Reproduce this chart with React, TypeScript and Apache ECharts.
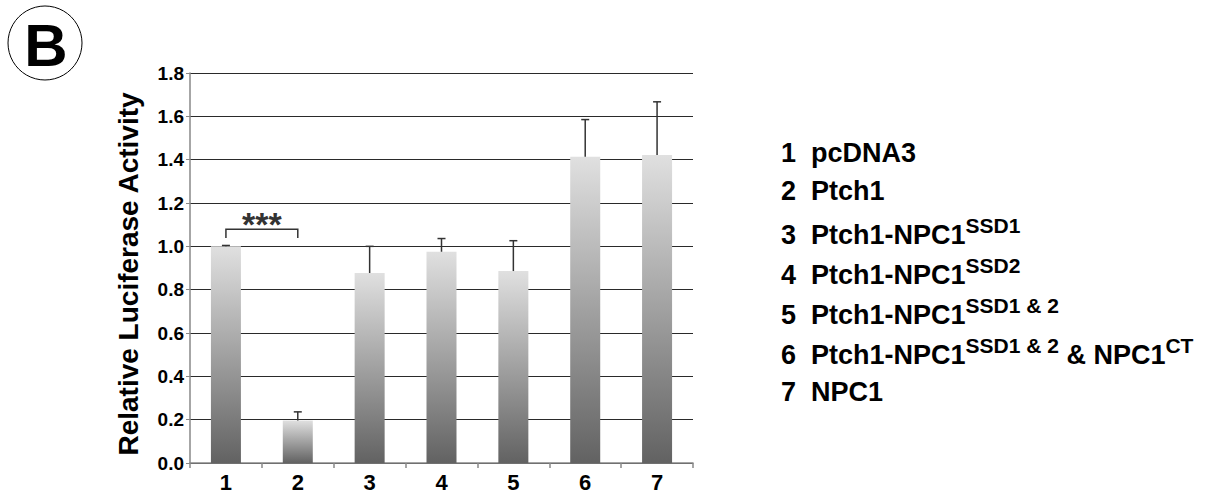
import React, { useEffect, useRef } from "react";
import * as echarts from "echarts";

const categories = ["1", "2", "3", "4", "5", "6", "7"];
const values = [1.0, 0.196, 0.877, 0.975, 0.886, 1.413, 1.422];
const errors = [0.004, 0.04, 0.123, 0.061, 0.14, 0.172, 0.245];
const yTicks = { min: 0, max: 1.8, interval: 0.2 };
// significance bracket: [fromCategory, toCategory, legBottom, bracketTop]
const bracket = [[0, 1, 1.038, 1.079]];
const bracketLabel = "***";
const yTitle = "Relative Luciferase Activity";
const panelLetter = "B";

type Seg = { t: string; sup?: boolean };
const legendNumbers = ["1", "2", "3", "4", "5", "6", "7"];
const legendEntries: Seg[][] = [
  [{ t: "pcDNA3" }],
  [{ t: "Ptch1" }],
  [{ t: "Ptch1-NPC1" }, { t: "SSD1", sup: true }],
  [{ t: "Ptch1-NPC1" }, { t: "SSD2", sup: true }],
  [{ t: "Ptch1-NPC1" }, { t: "SSD1 & 2", sup: true }],
  [{ t: "Ptch1-NPC1" }, { t: "SSD1 & 2", sup: true }, { t: " & NPC1" }, { t: "CT", sup: true }],
  [{ t: "NPC1" }],
];
const legendY = [153, 191, 235, 275, 315, 355, 392];

const FONT = "'Liberation Sans', Arial, Helvetica, sans-serif";

export default function App() {
  const ref = useRef<HTMLDivElement>(null);
  useEffect(() => {
    if (!ref.current) return;
    const chart = echarts.init(ref.current, null, { renderer: "svg" });

    const legendGraphics = legendEntries.map((segs, i) => {
      const text =
        `{m|${legendNumbers[i]}  }` +
        segs.map((s) => (s.sup ? `{s|${s.t}}` : `{m|${s.t}}`)).join("");
      return {
        type: "text",
        x: 781,
        y: legendY[i],
        style: {
          text,
          align: "left",
          verticalAlign: "middle",
          fontFamily: FONT,
          fontWeight: "bold",
          rich: {
            m: { fontSize: 27, fontWeight: "bold", fontFamily: FONT, fill: "#000", color: "#000", lineHeight: 40 },
            s: { fontSize: 21, fontWeight: "bold", fontFamily: FONT, fill: "#000", color: "#000", lineHeight: 8, verticalAlign: "top" },
          },
        },
      };
    });

    const option: any = {
      animation: false,
      backgroundColor: "#fff",
      grid: { left: 190, right: 525, top: 73, bottom: 28, containLabel: false },
      xAxis: {
        type: "category",
        data: categories,
        axisLine: { lineStyle: { color: "#888", width: 1.5 } },
        axisTick: { show: true, length: 5, lineStyle: { color: "#888", width: 1.5 } },
        axisLabel: { color: "#000", fontSize: 22, fontWeight: "bold", fontFamily: FONT, margin: 8 },
      },
      yAxis: {
        type: "value",
        min: yTicks.min,
        max: yTicks.max,
        interval: yTicks.interval,
        name: yTitle,
        nameLocation: "middle",
        nameRotate: 90,
        nameGap: 48,
        nameTextStyle: { color: "#000", fontSize: 28, fontWeight: "bold", fontFamily: FONT, padding: [0, 12, 0, 0] },
        axisLine: { show: true, lineStyle: { color: "#888", width: 1.5 } },
        axisTick: { show: true, length: 4, lineStyle: { color: "#888", width: 1 } },
        axisLabel: {
          color: "#000",
          fontSize: 19,
          fontWeight: "bold",
          fontFamily: FONT,
          margin: 6,
          formatter: (v: number) => v.toFixed(1),
        },
        splitLine: { show: true, lineStyle: { color: "#2a2a2a", width: 1.2 } },
      },
      series: [
        {
          type: "bar",
          data: values,
          barWidth: 30,
          itemStyle: {
            color: new echarts.graphic.LinearGradient(0, 0, 0, 1, [
              { offset: 0, color: "#e0e0e0" },
              { offset: 1, color: "#626262" },
            ]),
          },
          z: 2,
        },
        {
          type: "custom",
          data: values.map((v, i) => [i, v, v + errors[i]]),
          encode: { x: 0, y: 2 },
          z: 10,
          renderItem: (params: any, api: any) => {
            const base = api.coord([api.value(0), api.value(1)]);
            const top = api.coord([api.value(0), api.value(2)]);
            const hw = 4;
            const st = { stroke: "#333", lineWidth: 1.5 };
            return {
              type: "group",
              children: [
                { type: "line", shape: { x1: base[0], y1: base[1], x2: top[0], y2: top[1] }, style: st },
                { type: "line", shape: { x1: top[0] - hw, y1: top[1], x2: top[0] + hw, y2: top[1] }, style: st },
              ],
            };
          },
        },
        {
          type: "custom",
          data: bracket,
          encode: { x: 0, y: 3 },
          z: 10,
          renderItem: (params: any, api: any) => {
            const a0 = api.coord([api.value(0), api.value(2)]);
            const a1 = api.coord([api.value(0), api.value(3)]);
            const b1 = api.coord([api.value(1), api.value(3)]);
            const b0 = api.coord([api.value(1), api.value(2)]);
            return {
              type: "group",
              children: [
                {
                  type: "polyline",
                  shape: { points: [a0, a1, b1, b0] },
                  style: { stroke: "#333", lineWidth: 1.5, fill: "none" },
                },
                {
                  type: "text",
                  x: (a1[0] + b1[0]) / 2,
                  y: a1[1] - 5,
                  style: {
                    text: bracketLabel,
                    align: "center",
                    verticalAlign: "middle",
                    fontSize: 34,
                    fontWeight: "bold",
                    fontFamily: FONT,
                    fill: "#333",
                  },
                },
              ],
            };
          },
        },
      ],
      graphic: [
        {
          type: "circle",
          shape: { cx: 45, cy: 43, r: 37 },
          style: { fill: "none", stroke: "#000", lineWidth: 1 },
        },
        {
          type: "text",
          x: 46,
          y: 45,
          style: {
            text: panelLetter,
            align: "center",
            verticalAlign: "middle",
            fontSize: 60,
            fontWeight: "bold",
            fontFamily: FONT,
            fill: "#000",
          },
        },
        ...legendGraphics,
      ],
    };
    chart.setOption(option);
    return () => chart.dispose();
  }, []);
  return (
    <div
      ref={ref}
      style={{ position: "absolute", left: 0, top: 0, width: 1218, height: 493, background: "#fff" }}
    />
  );
}
